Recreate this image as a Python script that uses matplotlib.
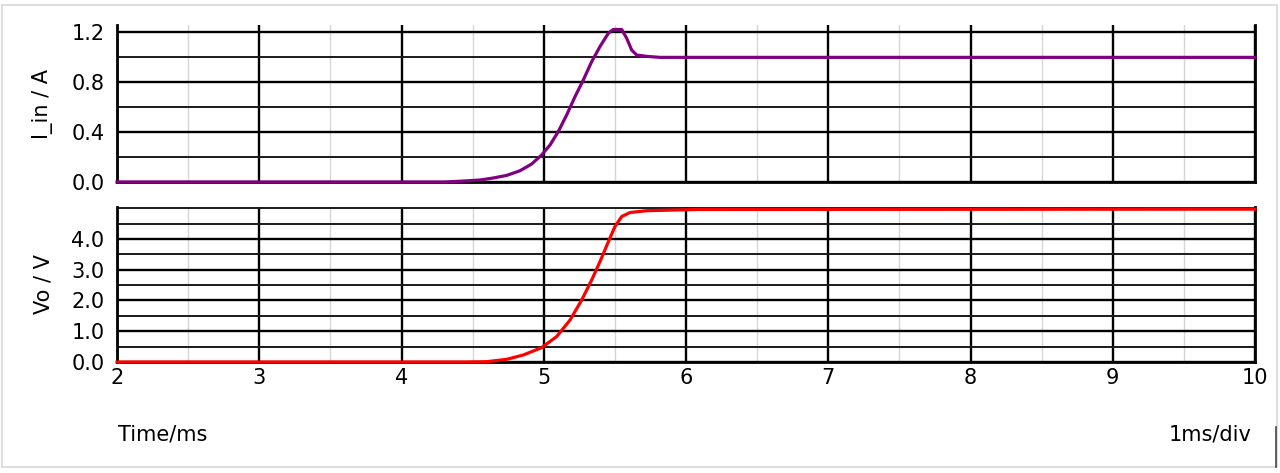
import matplotlib
matplotlib.use('Agg')
import matplotlib.pyplot as plt
from matplotlib.ticker import MultipleLocator, FixedLocator
from matplotlib.patches import Rectangle
from matplotlib.lines import Line2D

# input current (A)
t_iin = [2.0, 4.30, 4.411, 4.552, 4.645, 4.74, 4.833, 4.915, 4.985, 5.044,
         5.102, 5.161, 5.22, 5.278, 5.337, 5.395, 5.454, 5.489, 5.548, 5.583,
         5.618, 5.653, 5.724, 5.817, 6.0, 10.0]
i_in = [0.0, 0.0, 0.006, 0.016, 0.032, 0.053, 0.09, 0.144, 0.216, 0.296,
        0.403, 0.536, 0.683, 0.816, 0.963, 1.083, 1.19, 1.22, 1.22, 1.15,
        1.056, 1.016, 1.005, 0.997, 0.997, 0.997]

# output voltage (V)
t_vo = [2.0, 4.45, 4.6, 4.74, 4.856, 4.985, 5.09, 5.185, 5.267, 5.337,
        5.395, 5.454, 5.50, 5.548, 5.606, 5.724, 5.91, 6.098, 10.0]
vo = [0.0, 0.0, 0.01, 0.087, 0.228, 0.466, 0.824, 1.366, 2.016, 2.667,
      3.26, 3.91, 4.40, 4.73, 4.86, 4.92, 4.94, 4.96, 4.97]

x_ticks = [2, 3, 4, 5, 6, 7, 8, 9, 10]
vo_ticks = [0.0, 1.0, 2.0, 3.0, 4.0]
FS = 15

fig = plt.figure(figsize=(12.8, 4.73), dpi=100)
fig.patches.append(Rectangle((2 / 1280, 1 - 467 / 473), 1275 / 1280, 462 / 473,
                             transform=fig.transFigure, fill=False,
                             edgecolor='#d8d8d8', linewidth=1.2))
fig.lines.append(Line2D([1276 / 1280, 1276 / 1280], [1 - 427 / 473, 1 - 467 / 473],
                        transform=fig.transFigure, color='#444444', linewidth=1.2))

left, width = 117 / 1280, (1255 - 117) / 1280
ax1 = fig.add_axes([left, 1 - 182 / 473, width, 157 / 473])
ax2 = fig.add_axes([left, 1 - 362 / 473, width, 155 / 473])


def style(ax, ymax, minor):
    ax.set_xlim(2, 10)
    ax.set_ylim(0, ymax)
    ax.xaxis.set_major_locator(MultipleLocator(1))
    ax.xaxis.set_minor_locator(MultipleLocator(0.5))
    ax.yaxis.set_minor_locator(MultipleLocator(minor))
    ax.grid(True, which='major', axis='both', color='black', linewidth=1.7)
    ax.grid(True, which='minor', axis='x', color='#d6d6d6', linewidth=1.0)
    ax.grid(True, which='minor', axis='y', color='#1a1a1a', linewidth=1.4)
    ax.set_axisbelow(True)
    ax.spines['top'].set_visible(False)
    for s in ('left', 'right', 'bottom'):
        ax.spines[s].set_linewidth(2.0)
        ax.spines[s].set_color('black')
    ax.tick_params(which='both', length=0, labelsize=FS, pad=9)
    ax.yaxis.set_major_formatter('{x:.1f}')


style(ax1, 1.256, 0.2)
ax1.yaxis.set_major_locator(MultipleLocator(0.4))
style(ax2, 5.04, 0.5)
ax2.yaxis.set_major_locator(FixedLocator(vo_ticks))
ax1.set_xticklabels([])
ax2.set_xticks(x_ticks)
ax2.set_xticklabels([str(v) for v in x_ticks])
ax2.tick_params(axis='x', pad=4)

ax1.plot(t_iin, i_in, color='#800080', linewidth=2.3, zorder=5, clip_on=False)
ax2.plot(t_vo, vo, color='#ff0000', linewidth=2.3, zorder=5, clip_on=False)

ax1.set_ylabel('I_in / A', fontsize=FS)
ax2.set_ylabel('Vo / V', fontsize=FS)
ax1.yaxis.set_label_coords(-0.056, 0.5)
ax2.yaxis.set_label_coords(-0.056, 0.5)

fig.text(118 / 1280, 1 - 434 / 473, 'Time/ms', fontsize=FS, va='center', ha='left')
fig.text(1252 / 1280, 1 - 434 / 473, '1ms/div', fontsize=FS, va='center', ha='right')

fig.savefig('out.png', dpi=100)
